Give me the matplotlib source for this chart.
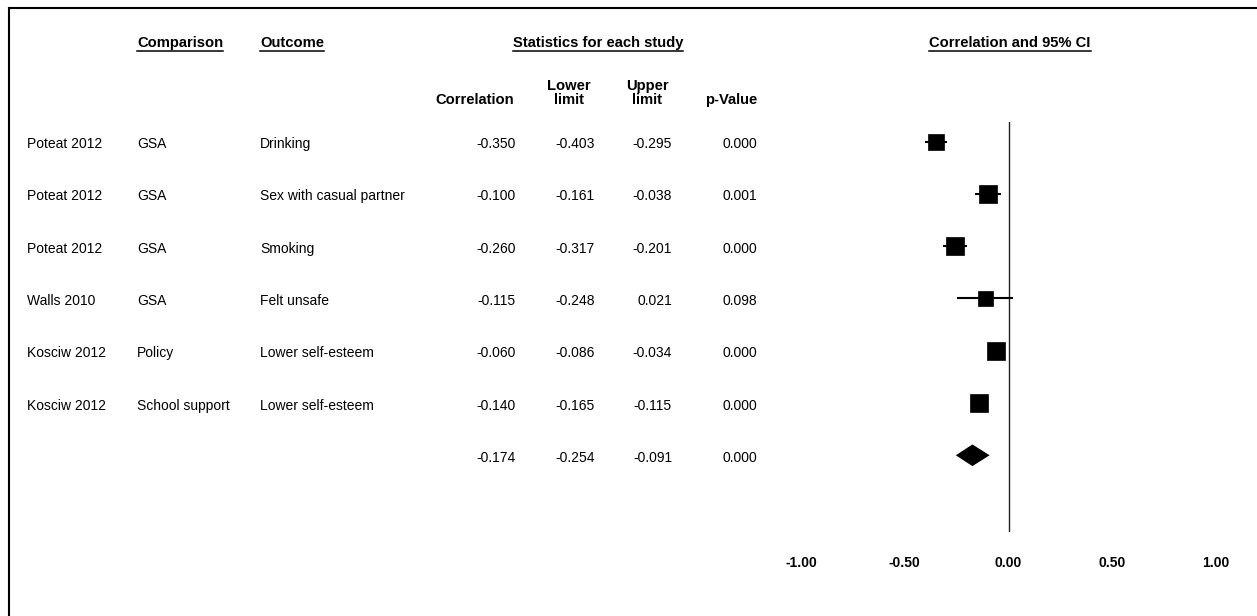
import matplotlib
matplotlib.use("Agg")
import matplotlib.pyplot as plt
from matplotlib.lines import Line2D
from matplotlib.transforms import blended_transform_factory

plt.rcParams['font.family'] = ['Liberation Sans', 'DejaVu Sans']
plt.rcParams['font.size'] = 10

# study-level results (correlation with 95% CI)
studies = ["Poteat 2012", "Poteat 2012", "Poteat 2012", "Walls 2010", "Kosciw 2012", "Kosciw 2012"]
comparison = ["GSA", "GSA", "GSA", "GSA", "Policy", "School support"]
outcome = ["Drinking", "Sex with casual partner", "Smoking", "Felt unsafe",
           "Lower self-esteem", "Lower self-esteem"]
corr = [-0.350, -0.100, -0.260, -0.115, -0.060, -0.140]
lower = [-0.403, -0.161, -0.317, -0.248, -0.086, -0.165]
upper = [-0.295, -0.038, -0.201, 0.021, -0.034, -0.115]
pval = [0.000, 0.001, 0.000, 0.098, 0.000, 0.000]

# pooled estimate
pooled_corr, pooled_lower, pooled_upper, pooled_p = -0.174, -0.254, -0.091, 0.000

xticks = [-1.0, -0.5, 0.0, 0.5, 1.0]

# box sizes (points) for each study
box_pt = [12.2, 13.0, 12.7, 10.8, 13.2, 13.5]

W, H = 1257, 616
HEAD = 10.6
fig = plt.figure(figsize=(W / 100, H / 100), dpi=100)


def fx(px):
    return px / W


def fy(py):
    return 1 - py / H


ax = fig.add_axes([fx(801), fy(532), fx(1216) - fx(801), (532 - 122) / H])
ax.set_xlim(-1, 1)
ax.set_ylim(7.467, -0.373)
for s in ax.spines.values():
    s.set_visible(False)
ax.set_yticks([])
ax.set_xticks(xticks)
ax.set_xticklabels([f"{t:.2f}" for t in xticks], fontweight='bold')
ax.tick_params(axis='x', length=0, pad=17.5)

rows = list(range(len(studies)))
pooled_row = len(studies)

# null line
ax.axvline(0, color='#222222', lw=1.0)

# confidence intervals and weighted boxes
for i in rows:
    ax.plot([lower[i], upper[i]], [i, i], color='black', lw=1.5, solid_capstyle='butt')
    ax.plot(corr[i], i, marker='s', ms=box_pt[i], color='black', mec='black', mew=0.5)

# pooled diamond
h = 0.207
ax.fill([pooled_lower, pooled_corr, pooled_upper, pooled_corr],
        [pooled_row, pooled_row - h, pooled_row, pooled_row + h],
        color='black', lw=0)

# table columns, aligned with the rows of the plot
tr = blended_transform_factory(fig.transFigure, ax.transData)


def cell(x, y, s, ha='left', **kw):
    ax.text(fx(x), y + 0.05, s, transform=tr, ha=ha, va='center', clip_on=False, **kw)


for i in rows:
    cell(27, i, studies[i])
    cell(137, i, comparison[i])
    cell(260, i, outcome[i])
    cell(516, i, f"{corr[i]:.3f}", ha='right')
    cell(595, i, f"{lower[i]:.3f}", ha='right')
    cell(672, i, f"{upper[i]:.3f}", ha='right')
    cell(757, i, f"{pval[i]:.3f}", ha='right')

cell(516, pooled_row, f"{pooled_corr:.3f}", ha='right')
cell(595, pooled_row, f"{pooled_lower:.3f}", ha='right')
cell(672, pooled_row, f"{pooled_upper:.3f}", ha='right')
cell(757, pooled_row, f"{pooled_p:.3f}", ha='right')

# headers
underlined = [
    fig.text(fx(137), fy(43), "Comparison", ha='left', va='center', fontweight='bold', fontsize=HEAD),
    fig.text(fx(260), fy(43), "Outcome", ha='left', va='center', fontweight='bold', fontsize=HEAD),
    fig.text(fx(598), fy(43), "Statistics for each study", ha='center', va='center',
             fontweight='bold', fontsize=HEAD),
    fig.text(fx(1010), fy(43), "Correlation and 95% CI", ha='center', va='center',
             fontweight='bold', fontsize=HEAD),
]
fig.text(fx(514), fy(100), "Correlation", ha='right', va='center', fontweight='bold', fontsize=HEAD)
fig.text(fx(569), fy(93), "Lower\nlimit", ha='center', va='center', fontweight='bold', fontsize=HEAD,
         multialignment='center', linespacing=1.0)
fig.text(fx(647), fy(93), "Upper\nlimit", ha='center', va='center', fontweight='bold', fontsize=HEAD,
         multialignment='center', linespacing=1.0)
fig.text(fx(757), fy(100), "p-Value", ha='right', va='center', fontweight='bold', fontsize=HEAD)

renderer = fig.canvas.get_renderer()
for t in underlined:
    bb = t.get_window_extent(renderer)
    fig.add_artist(Line2D([bb.x0 / W, bb.x1 / W], [fy(51), fy(51)],
                          transform=fig.transFigure, color='black', lw=1.1))

# outer frame (top and left edges)
fig.add_artist(Line2D([fx(9), 1], [fy(8), fy(8)], transform=fig.transFigure, color='black', lw=1.5))
fig.add_artist(Line2D([fx(9), fx(9)], [fy(8), 0], transform=fig.transFigure, color='black', lw=1.5))

fig.savefig("out.png", dpi=100)
